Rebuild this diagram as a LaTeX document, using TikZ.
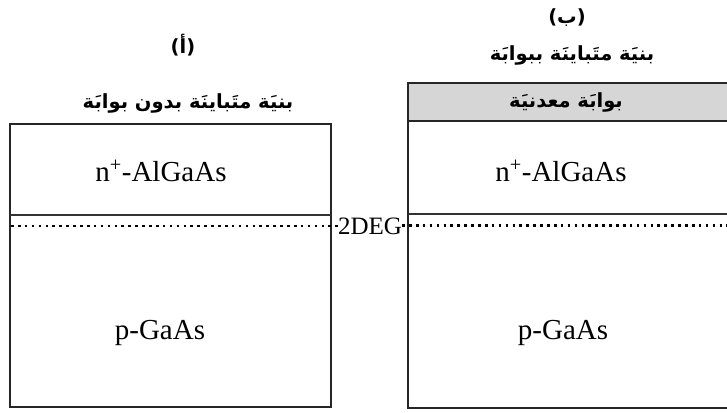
\documentclass[tikz,border=0pt]{standalone}
\usepackage{fontspec}
\setmainfont{Liberation Serif}
\newfontfamily\arabicfont[Script=Arabic]{DejaVu Sans}
\TeXXeTstate=1
\begin{document}
\begin{tikzpicture}[x=1pt,y=-1pt,
  layer/.style={draw=black!85, line width=1.8pt},
  iface/.style={draw=black!80, line width=1.8pt},
  gas/.style={draw=black, line width=2.6pt, dash pattern=on 2.6pt off 4.3pt},
  lat/.style={inner sep=0pt, anchor=base, font=\fontsize{29}{30}\selectfont},
  arab/.style={inner sep=0pt, font=\arabicfont\bfseries\fontsize{19.5}{22}\selectfont}]
\useasboundingbox (0,0) rectangle (727,412);
\clip (0,0) rectangle (727,412);
% left structure
\draw[layer] (10,124) rectangle (331,407);
\draw[iface] (10,215) -- (331,215);
% right structure
\fill[black!16] (408,83) rectangle (740,121);
\draw[layer] (740,83) -- (408,83) -- (408,408) -- (740,408);
\draw[black!85, line width=2.4pt] (408,121) -- (740,121);
\draw[iface] (408,214) -- (740,214);
% 2DEG
\node[inner sep=0pt, anchor=base, font=\fontsize{25}{26}\selectfont] (deg) at (370,234) {2DEG};
\coordinate (gl) at (11,226);
\coordinate (gr) at (727,225.5);
\draw[gas] (gl) -- (deg.west |- gl);
\draw[gas] (deg.east |- gr) -- (gr);
% texts
\node[lat] (nL) at (161,181) {n\textsuperscript{+}-AlGaAs};
\node[lat] (pL) at (160,339) {p-GaAs};
\node[lat] (nR) at (561,181) {n\textsuperscript{+}-AlGaAs};
\node[lat] (pR) at (563,339) {p-GaAs};
\node[arab] (la) at (183,45) {\beginR(أ)\endR};
\node[arab] (lt) at (188,103) {\beginR بنيَة متَباينَة بدون بوابَة\endR};
\node[arab] (ra) at (567,18) {\beginR(ب)\endR};
\node[arab] (rt) at (572,55) {\beginR بنيَة متَباينَة ببوابَة\endR};
\node[arab] (gt) at (566,102) {\beginR بوابَة معدنيَة\endR};
\end{tikzpicture}
\end{document}
